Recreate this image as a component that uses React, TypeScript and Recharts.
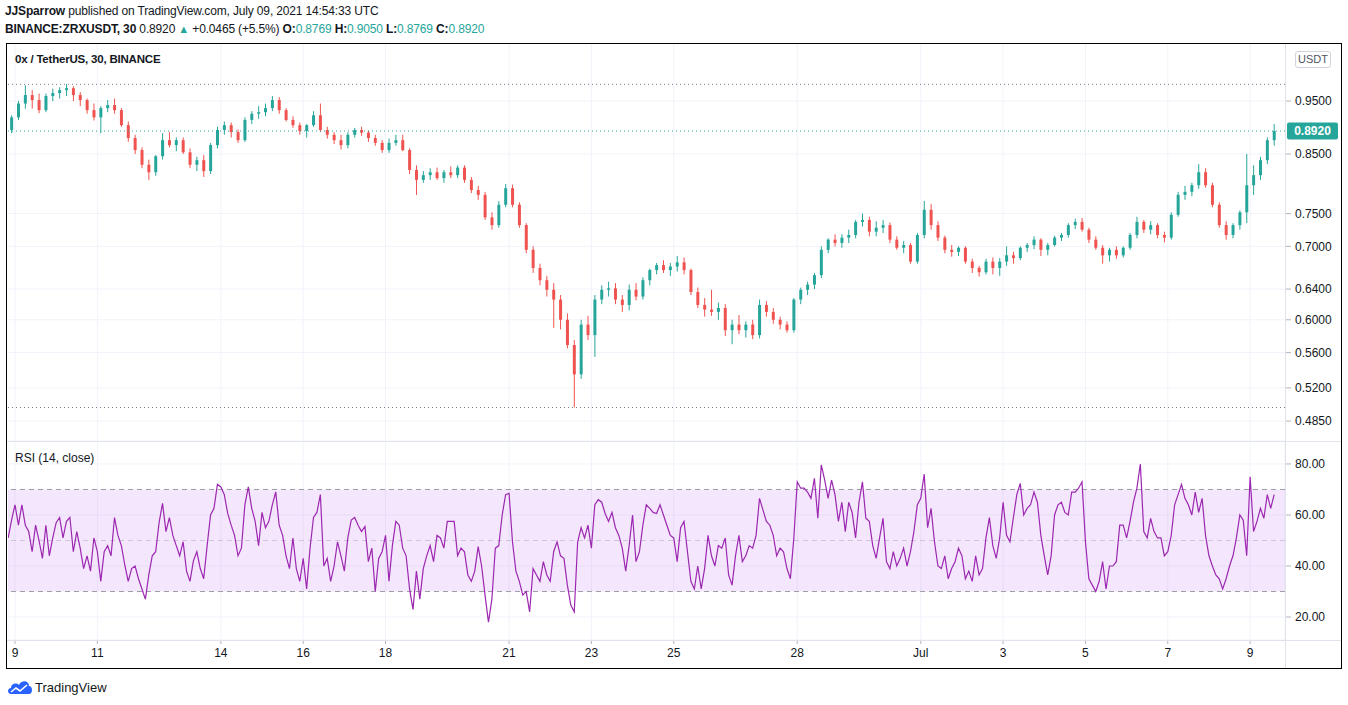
import React from "react";
import { Bar, CartesianGrid, ComposedChart, Line, ReferenceArea, ReferenceLine, XAxis, YAxis } from "recharts";

const UP = "#26a69a";
const DOWN = "#ef5350";
const FONT = "'Liberation Sans', Arial, sans-serif";

// day offsets from Jun 9 00:00 UTC
const dayTicks = [0, 2, 5, 7, 9, 12, 14, 16, 19, 22, 24, 26, 28, 30];
const dayLabels = ["9", "11", "14", "16", "18", "21", "23", "25", "28", "Jul", "3", "5", "7", "9"];
const priceTicks = [0.485, 0.52, 0.56, 0.6, 0.64, 0.7, 0.75, 0.85, 0.95];
const rsiTicks = [20, 40, 60, 80];
const lastPrice = 0.892;

// 4h candles from Jun 8 20:00, [open, high, low, close]
const candles: [number, number, number, number][] = [
  [0.894, 0.922, 0.888, 0.918],
  [0.918, 0.95, 0.913, 0.945], [0.945, 0.982, 0.935, 0.962], [0.962, 0.972, 0.935, 0.952],
  [0.952, 0.965, 0.926, 0.932], [0.932, 0.965, 0.928, 0.96], [0.96, 0.975, 0.95, 0.966],
  [0.966, 0.978, 0.955, 0.972], [0.972, 0.984, 0.96, 0.976], [0.976, 0.98, 0.95, 0.962],
  [0.962, 0.968, 0.94, 0.952], [0.952, 0.955, 0.925, 0.932], [0.932, 0.945, 0.912, 0.918],
  [0.918, 0.94, 0.888, 0.936], [0.936, 0.952, 0.928, 0.942], [0.942, 0.955, 0.925, 0.932],
  [0.932, 0.936, 0.9, 0.903], [0.903, 0.91, 0.872, 0.879], [0.879, 0.885, 0.85, 0.857],
  [0.857, 0.862, 0.825, 0.831], [0.831, 0.84, 0.805, 0.818], [0.818, 0.848, 0.812, 0.846],
  [0.846, 0.888, 0.84, 0.875], [0.875, 0.89, 0.862, 0.866], [0.866, 0.88, 0.855, 0.875],
  [0.875, 0.88, 0.85, 0.853], [0.853, 0.86, 0.825, 0.831], [0.831, 0.845, 0.82, 0.839],
  [0.839, 0.848, 0.81, 0.82], [0.82, 0.87, 0.815, 0.866], [0.866, 0.9, 0.86, 0.894],
  [0.894, 0.91, 0.885, 0.903], [0.903, 0.908, 0.88, 0.89], [0.89, 0.895, 0.87, 0.875],
  [0.875, 0.918, 0.872, 0.913], [0.913, 0.93, 0.905, 0.925], [0.925, 0.94, 0.915, 0.928],
  [0.928, 0.945, 0.92, 0.936], [0.936, 0.96, 0.93, 0.952], [0.952, 0.958, 0.925, 0.932],
  [0.932, 0.936, 0.91, 0.913], [0.913, 0.92, 0.898, 0.903], [0.903, 0.908, 0.885, 0.892],
  [0.892, 0.905, 0.88, 0.903], [0.903, 0.93, 0.9, 0.922], [0.922, 0.945, 0.89, 0.894],
  [0.894, 0.9, 0.878, 0.885], [0.885, 0.89, 0.868, 0.875], [0.875, 0.885, 0.858, 0.866],
  [0.866, 0.89, 0.86, 0.885], [0.885, 0.898, 0.88, 0.894], [0.894, 0.9, 0.883, 0.889],
  [0.889, 0.893, 0.872, 0.879], [0.879, 0.885, 0.865, 0.87], [0.87, 0.875, 0.852, 0.857],
  [0.857, 0.878, 0.852, 0.87], [0.87, 0.885, 0.865, 0.875], [0.875, 0.885, 0.855, 0.857],
  [0.857, 0.86, 0.815, 0.822], [0.822, 0.83, 0.78, 0.805], [0.805, 0.82, 0.8, 0.813],
  [0.813, 0.825, 0.805, 0.818], [0.818, 0.826, 0.805, 0.808], [0.808, 0.822, 0.8, 0.818],
  [0.818, 0.828, 0.808, 0.813], [0.813, 0.83, 0.808, 0.826], [0.826, 0.83, 0.8, 0.805],
  [0.805, 0.81, 0.783, 0.788], [0.788, 0.795, 0.772, 0.78], [0.78, 0.785, 0.74, 0.744],
  [0.744, 0.752, 0.725, 0.732], [0.732, 0.77, 0.728, 0.764], [0.764, 0.798, 0.76, 0.791],
  [0.791, 0.797, 0.76, 0.764], [0.764, 0.768, 0.728, 0.732], [0.732, 0.735, 0.69, 0.695],
  [0.695, 0.7, 0.662, 0.669], [0.669, 0.675, 0.645, 0.652], [0.652, 0.658, 0.63, 0.639],
  [0.639, 0.648, 0.59, 0.626], [0.626, 0.632, 0.588, 0.6], [0.6, 0.608, 0.565, 0.569],
  [0.569, 0.575, 0.499, 0.535], [0.535, 0.6, 0.53, 0.594], [0.594, 0.605, 0.575, 0.581],
  [0.581, 0.632, 0.555, 0.626], [0.626, 0.645, 0.62, 0.639], [0.639, 0.65, 0.63, 0.641],
  [0.641, 0.648, 0.62, 0.626], [0.626, 0.632, 0.61, 0.619], [0.619, 0.646, 0.612, 0.639],
  [0.639, 0.648, 0.625, 0.63], [0.63, 0.656, 0.626, 0.652], [0.652, 0.668, 0.645, 0.666],
  [0.666, 0.676, 0.66, 0.673], [0.673, 0.68, 0.662, 0.666], [0.666, 0.676, 0.658, 0.671],
  [0.671, 0.686, 0.664, 0.677], [0.677, 0.684, 0.66, 0.666], [0.666, 0.668, 0.632, 0.636],
  [0.636, 0.642, 0.615, 0.619], [0.619, 0.628, 0.604, 0.613], [0.613, 0.639, 0.605, 0.61],
  [0.61, 0.622, 0.6, 0.615], [0.615, 0.62, 0.58, 0.587], [0.587, 0.6, 0.57, 0.594],
  [0.594, 0.606, 0.582, 0.587], [0.587, 0.598, 0.578, 0.594], [0.594, 0.6, 0.576, 0.581],
  [0.581, 0.626, 0.577, 0.619], [0.619, 0.624, 0.604, 0.61], [0.61, 0.615, 0.595, 0.6],
  [0.6, 0.604, 0.588, 0.594], [0.594, 0.598, 0.584, 0.587], [0.587, 0.628, 0.584, 0.626],
  [0.626, 0.642, 0.62, 0.639], [0.639, 0.65, 0.632, 0.646], [0.646, 0.662, 0.64, 0.659],
  [0.659, 0.7, 0.655, 0.695], [0.695, 0.712, 0.69, 0.71], [0.71, 0.718, 0.7, 0.705],
  [0.705, 0.718, 0.698, 0.713], [0.713, 0.725, 0.705, 0.717], [0.717, 0.74, 0.712, 0.737],
  [0.737, 0.75, 0.73, 0.74], [0.74, 0.745, 0.715, 0.722], [0.722, 0.738, 0.715, 0.728],
  [0.728, 0.74, 0.72, 0.732], [0.732, 0.736, 0.705, 0.71], [0.71, 0.715, 0.695, 0.698],
  [0.698, 0.708, 0.69, 0.702], [0.702, 0.705, 0.675, 0.678], [0.678, 0.72, 0.675, 0.717],
  [0.717, 0.77, 0.712, 0.756], [0.756, 0.765, 0.725, 0.732], [0.732, 0.738, 0.708, 0.713],
  [0.713, 0.716, 0.69, 0.695], [0.695, 0.702, 0.685, 0.692], [0.692, 0.7, 0.686, 0.698],
  [0.698, 0.7, 0.675, 0.678], [0.678, 0.682, 0.662, 0.669], [0.669, 0.672, 0.657, 0.663],
  [0.663, 0.682, 0.66, 0.678], [0.678, 0.684, 0.66, 0.669], [0.669, 0.683, 0.658, 0.678],
  [0.678, 0.7, 0.672, 0.687], [0.687, 0.692, 0.675, 0.683], [0.683, 0.7, 0.68, 0.698],
  [0.698, 0.705, 0.692, 0.702], [0.702, 0.715, 0.696, 0.71], [0.71, 0.712, 0.686, 0.695],
  [0.695, 0.705, 0.687, 0.702], [0.702, 0.716, 0.7, 0.713], [0.713, 0.72, 0.708, 0.717],
  [0.717, 0.735, 0.713, 0.732], [0.732, 0.742, 0.726, 0.737], [0.737, 0.743, 0.722, 0.725],
  [0.725, 0.728, 0.705, 0.71], [0.71, 0.715, 0.695, 0.698], [0.698, 0.702, 0.675, 0.687],
  [0.687, 0.698, 0.678, 0.695], [0.695, 0.7, 0.682, 0.687], [0.687, 0.7, 0.684, 0.698],
  [0.698, 0.72, 0.695, 0.717], [0.717, 0.745, 0.712, 0.737], [0.737, 0.74, 0.72, 0.725],
  [0.725, 0.738, 0.718, 0.732], [0.732, 0.735, 0.712, 0.717], [0.717, 0.722, 0.706, 0.713],
  [0.713, 0.752, 0.71, 0.748], [0.748, 0.785, 0.745, 0.78], [0.78, 0.795, 0.772, 0.785],
  [0.785, 0.8, 0.778, 0.796], [0.796, 0.832, 0.79, 0.818], [0.818, 0.825, 0.792, 0.796],
  [0.796, 0.8, 0.76, 0.764], [0.764, 0.768, 0.728, 0.732], [0.732, 0.738, 0.71, 0.717],
  [0.717, 0.735, 0.712, 0.732], [0.732, 0.755, 0.725, 0.752], [0.752, 0.85, 0.735, 0.796],
  [0.796, 0.83, 0.78, 0.813], [0.813, 0.845, 0.805, 0.839], [0.839, 0.88, 0.832, 0.875],
  [0.875, 0.905, 0.865, 0.892],
];

// RSI(14) sampled every 2h from Jun 8 20:00
const rsiValues = [
  51, 58, 64, 56, 64, 56, 53.5, 45.6, 56, 50, 43, 56,
  44, 51, 57, 59, 51, 57.5, 59, 45.6, 53.5, 47, 39, 44,
  38, 51, 45.6, 34, 45.6, 48, 44, 59, 52, 48, 40.4, 34,
  39, 40, 35, 31, 27, 36.5, 44, 45.6, 57, 64.6, 53.5, 59,
  52, 48, 44, 49.5, 38, 34, 42, 45.6, 39, 35, 48, 60,
  62.6, 72, 71, 68, 60.6, 56, 52, 44, 47, 64, 71, 62.6,
  57.5, 48, 61, 55, 57.5, 64, 69, 56, 52, 44, 39, 51,
  39, 34, 43, 31, 47, 59, 61, 68, 40, 43, 34, 40,
  49.5, 44, 38, 51, 58, 59, 56, 53.5, 55.5, 41.7, 47, 30,
  43, 45.6, 52, 34, 48, 57.5, 56, 47, 44, 31, 23, 38,
  27, 39, 44, 48, 41.7, 52, 51, 47, 57.5, 57.5, 57.5, 44,
  47, 45.6, 36.5, 34, 38, 47.6, 40, 28.6, 18, 27, 47, 48,
  60, 68, 68.5, 49.5, 38, 34, 28.6, 30, 22, 39, 36.5, 34,
  41.7, 36.5, 34, 45.6, 49.5, 44, 43, 32.5, 24.7, 22, 49.5, 55,
  51, 56, 47, 64, 66, 65, 60.6, 57.5, 61, 55, 52, 47,
  38, 48, 60, 41.7, 45.6, 56, 64, 62.6, 61, 60.6, 64, 60,
  56, 52, 51, 41.7, 55, 57.5, 45.6, 34, 31, 40, 31, 39,
  52, 44, 40, 48, 47, 51, 36.5, 32.5, 44, 52, 41.7, 44,
  48, 47, 52, 66.5, 62, 57.5, 56, 52, 44, 47, 45.6, 39,
  35, 51, 73, 70.5, 70.5, 69, 66.5, 74.4, 58.7, 79.6, 73.7, 66.5,
  73.7, 68, 57.5, 65, 53.5, 65, 61, 51, 65, 73, 58.7, 57.5,
  48, 43, 51, 58.7, 41.7, 39, 45.6, 40, 43, 47, 40, 45.6,
  53.5, 64, 66.5, 76, 55, 62.6, 49.5, 40, 39, 44, 35, 39,
  41.7, 47, 44, 35, 38, 34, 44, 36.5, 39, 51, 59, 48,
  43, 51, 65, 52, 49.5, 59, 68, 72.4, 60, 62.6, 64, 69,
  65, 52, 44, 36.5, 44, 60, 64, 65, 61, 60, 69, 69,
  70.5, 73, 49.5, 35, 32.5, 30, 34, 41.7, 31, 40, 40, 41.7,
  56, 56, 51, 57.5, 65, 70.5, 80, 53.5, 51, 58.7, 53.5, 51,
  51, 44, 45.6, 52, 64, 68, 72, 66.5, 64, 60, 69, 61,
  66.5, 52, 44, 40, 36.5, 35, 31, 35, 40, 44, 51, 60,
  58, 44, 75, 53.5, 57.5, 62.6, 58.7, 68, 62.6, 68,
];

const candleData = candles.map(([open, high, low, close], i) => ({
  t: (2 * i - 1) / 12,
  open,
  high,
  low,
  close,
  range: [low, high],
}));
const rsiData = rsiValues.map((rsi, k) => ({ t: (k - 2) / 12, rsi }));

const maxHigh = Math.max(...candles.map((c) => c[1]));
const minLow = Math.min(...candles.map((c) => c[2]));

const X_DOMAIN: [number, number] = [-0.17, 30.847];
const PRICE_DOMAIN: [number, number] = [0.4651, 1.0732];

function Candle(props: any) {
  const { x, y, width, height, payload } = props;
  if (!payload) return null;
  const { open, high, low, close } = payload;
  const top = Math.min(y, y + height);
  const bot = Math.max(y, y + height);
  const span = Math.log(high) - Math.log(low) || 1;
  const py = (v: number) => top + ((bot - top) * (Math.log(high) - Math.log(v))) / span;
  const color = close >= open ? UP : DOWN;
  const cx = x + width / 2;
  const bt = py(Math.max(open, close));
  const bb = py(Math.min(open, close));
  return (
    <g>
      <line x1={cx} x2={cx} y1={top} y2={bot} stroke={color} strokeWidth={1} />
      <rect x={x} y={bt} width={width} height={Math.max(1, bb - bt)} fill={color} />
    </g>
  );
}

function PriceTag(props: any) {
  const { viewBox } = props;
  if (!viewBox) return null;
  const x = viewBox.x + viewBox.width + 2;
  return (
    <g>
      <rect x={x} y={viewBox.y - 8.5} width={51} height={17} rx={2} fill={UP} />
      <text x={x + 25.5} y={viewBox.y + 4} textAnchor="middle" fill="#fff" fontSize={12} fontWeight="bold" fontFamily={FONT}>
        {lastPrice.toFixed(4)}
      </text>
    </g>
  );
}

const axisTick = { fontSize: 12, fill: "#131722", fontFamily: FONT };

function Logo() {
  return (
    <svg width={26} height={16} viewBox="0 0 26 16">
      <path d="M4 15 C0 15 0 9 4 9 C4 5 9 3 12 6 C14 1 22 1 22 7 C26 7 26 15 22 15 Z" fill="#2962ff" />
      <polyline points="4,13 9,9 13,12 20,6" fill="none" stroke="#fff" strokeWidth={1.6} />
    </svg>
  );
}

export default function App() {
  return (
    <div style={{ position: "absolute", left: 0, top: 0, width: 1348, height: 705, background: "#fff", fontFamily: FONT, color: "#131722", overflow: "hidden" }}>
      <div style={{ position: "absolute", left: 5, top: 4, fontSize: 12, whiteSpace: "nowrap", letterSpacing: -0.15 }}>
        <b>JJSparrow</b> published on TradingView.com, July 09, 2021 14:54:33 UTC
      </div>
      <div style={{ position: "absolute", left: 5, top: 22, fontSize: 12, whiteSpace: "nowrap", letterSpacing: -0.15 }}>
        <b>BINANCE:ZRXUSDT, 30</b> 0.8920 <span style={{ color: UP, fontSize: 11 }}>▲</span> +0.0465 (+5.5%) <b>O:</b>
        <span style={{ color: UP }}>0.8769</span> <b>H:</b>
        <span style={{ color: UP }}>0.9050</span> <b>L:</b>
        <span style={{ color: UP }}>0.8769</span> <b>C:</b>
        <span style={{ color: UP }}>0.8920</span>
      </div>

      <div style={{ position: "absolute", left: 8, top: 43 }}>
        <ComposedChart width={1333} height={398} data={candleData} margin={{ top: 0, right: 0, bottom: 0, left: 0 }}>
          <CartesianGrid stroke="#f0f3fa" vertical={false} />
          {dayTicks.map((d) => (
            <ReferenceLine key={d} x={d} stroke="#f0f3fa" />
          ))}
          <XAxis type="number" dataKey="t" domain={X_DOMAIN} ticks={dayTicks} allowDataOverflow hide />
          <YAxis
            orientation="right"
            scale="log"
            domain={PRICE_DOMAIN}
            ticks={priceTicks}
            allowDataOverflow
            width={56}
            axisLine={false}
            tickLine={{ stroke: "#b2b5be" }}
            tickSize={6}
            tickMargin={4}
            tick={axisTick}
            tickFormatter={(v: number) => v.toFixed(4)}
          />
          <ReferenceLine y={maxHigh} stroke="#787b86" strokeDasharray="1 3" />
          <ReferenceLine y={minLow} stroke="#787b86" strokeDasharray="1 3" />
          <Bar dataKey="range" barSize={3} isAnimationActive={false} shape={(p: any) => <Candle {...p} />} />
          <ReferenceLine y={lastPrice} stroke={UP} strokeDasharray="1 3" label={<PriceTag />} />
        </ComposedChart>
      </div>

      <div style={{ position: "absolute", left: 8, top: 441 }}>
        <ComposedChart width={1333} height={227} data={rsiData} margin={{ top: 0, right: 0, bottom: 0, left: 0 }}>
          <CartesianGrid stroke="#f0f3fa" />
          <ReferenceArea y1={30} y2={70} fill="#b65cf0" fillOpacity={0.15} stroke="none" />
          <ReferenceLine y={70} stroke="#9e9ea6" strokeDasharray="5 4" />
          <ReferenceLine y={50} stroke="#cfc4dc" strokeDasharray="5 4" />
          <ReferenceLine y={30} stroke="#9e9ea6" strokeDasharray="5 4" />
          <XAxis
            type="number"
            dataKey="t"
            domain={X_DOMAIN}
            ticks={dayTicks}
            allowDataOverflow
            height={28}
            axisLine={false}
            tickLine={{ stroke: "#b2b5be" }}
            tickSize={4}
            tickMargin={4}
            tick={axisTick}
            tickFormatter={(v: number) => dayLabels[dayTicks.indexOf(v)] ?? ""}
          />
          <YAxis
            orientation="right"
            domain={[11, 89]}
            ticks={rsiTicks}
            allowDataOverflow
            width={56}
            axisLine={false}
            tickLine={{ stroke: "#b2b5be" }}
            tickSize={6}
            tickMargin={4}
            tick={axisTick}
            tickFormatter={(v: number) => v.toFixed(2)}
          />
          <Line type="linear" dataKey="rsi" stroke="#9c27b0" strokeWidth={1.2} dot={false} isAnimationActive={false} />
        </ComposedChart>
      </div>

      {/* pane separators and frame */}
      <div style={{ position: "absolute", left: 7, top: 441, width: 1334, height: 1, background: "#e0e3eb" }} />
      <div style={{ position: "absolute", left: 7, top: 640, width: 1334, height: 1, background: "#e0e3eb" }} />
      <div style={{ position: "absolute", left: 1285, top: 43, width: 1, height: 625, background: "#e0e3eb" }} />
      <div style={{ position: "absolute", left: 6, top: 43, width: 1334, height: 624, border: "1px solid #000" }} />

      <div style={{ position: "absolute", left: 15, top: 53, fontSize: 11.5, fontWeight: "bold", whiteSpace: "nowrap", letterSpacing: -0.2 }}>
        0x / TetherUS, 30, BINANCE
      </div>
      <div style={{ position: "absolute", left: 15, top: 451, fontSize: 12, whiteSpace: "nowrap" }}>RSI (14, close)</div>
      <div
        style={{
          position: "absolute",
          left: 1295,
          top: 51,
          width: 34,
          height: 15,
          border: "1px solid #d1d4dc",
          borderRadius: 3,
          fontSize: 11,
          lineHeight: "15px",
          textAlign: "center",
          color: "#50535e",
          background: "#fff",
        }}
      >
        USDT
      </div>

      <div style={{ position: "absolute", left: 7, top: 679, display: "flex", alignItems: "center", gap: 2 }}>
        <Logo />
        <span style={{ fontSize: 13, color: "#131722" }}>TradingView</span>
      </div>
    </div>
  );
}
